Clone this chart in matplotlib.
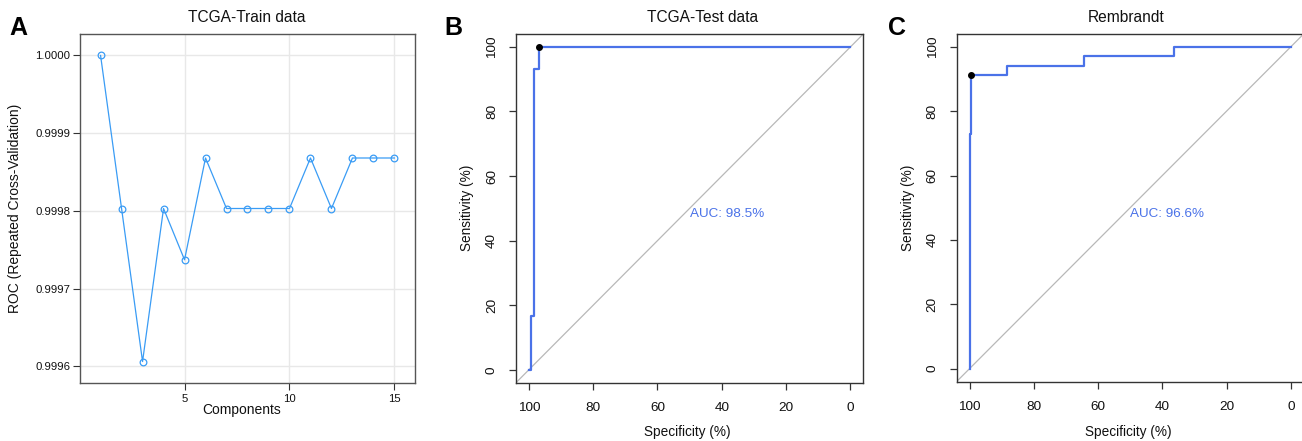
import matplotlib
matplotlib.use("Agg")
import matplotlib.pyplot as plt
import numpy as np

plt.rcParams['font.family'] = ['Liberation Sans', 'DejaVu Sans']

W, H = 1302, 441

# ---- Panel A data ----
components = [1, 2, 3, 4, 5, 6, 7, 8, 9, 10, 11, 12, 13, 14, 15]
roc_cv = [1.00000, 0.999803, 0.999606, 0.999803, 0.999737, 0.999868, 0.999803,
          0.999803, 0.999803, 0.999803, 0.999868, 0.999803, 0.999868, 0.999868, 0.999868]
a_xticks = [5, 10, 15]
a_yticks = [0.9996, 0.9997, 0.9998, 0.9999, 1.0000]

# ---- Panel B data (TCGA-Test) ----
b_spec = [100, 99.2, 99.2, 98.4, 98.4, 96.7, 96.7, 0]
b_sens = [0, 0, 16.7, 16.7, 93.3, 93.3, 100, 100]
b_best = (96.7, 100)
b_auc = "AUC: 98.5%"

# ---- Panel C data (Rembrandt) ----
c_spec = [100, 100, 99.4, 99.4, 88.2, 88.2, 64.4, 64.4, 36.3, 36.3, 0]
c_sens = [0, 72.8, 72.8, 91.2, 91.2, 94.1, 94.1, 97.1, 97.1, 100, 100]
c_best = (99.4, 91.2)
c_auc = "AUC: 96.6%"

roc_ticks = [0, 20, 40, 60, 80, 100]

fig = plt.figure(figsize=(W / 100, H / 100), dpi=100)


def rect(l, r, t, b):
    return [l / W, 1 - b / H, (r - l) / W, (b - t) / H]


def ftext(x, y, s, **kw):
    fig.text(x / W, 1 - y / H, s, **kw)


# ---------------- Panel A ----------------
axA = fig.add_axes(rect(80, 415, 34, 383))
lat_col = '#3a9cf5'
axA.plot(components, roc_cv, color=lat_col, lw=0.9, marker='o', ms=4.8,
         mfc='none', mec=lat_col, mew=0.9, zorder=3)
lo, hi = min(roc_cv), max(roc_cv)
pad = 0.07 * (hi - lo)
axA.set_ylim(lo - pad, hi + pad)
xpad = 0.07 * (max(components) - min(components))
axA.set_xlim(min(components) - xpad, max(components) + xpad)
axA.set_xticks(a_xticks)
axA.set_yticks(a_yticks)
axA.set_yticklabels([f"{v:.4f}" for v in a_yticks])
axA.grid(True, color='#e8e8e8', lw=1.0, zorder=0)
axA.set_axisbelow(True)
for s in axA.spines.values():
    s.set_color('#555555')
    s.set_linewidth(1.0)
axA.tick_params(axis='both', direction='out', length=4.8, width=0.8, color='#333333',
                labelsize=8.2, labelcolor='#111111', pad=2)
axA.tick_params(axis='x', pad=3)
ftext(247, 17, "TCGA-Train data", ha='center', va='center', fontsize=11.2, color='#111111')
ftext(242, 410, "Components", ha='center', va='center', fontsize=10, color='#111111')
ftext(15, 208, "ROC (Repeated Cross-Validation)", ha='center', va='center',
      rotation=90, fontsize=10, color='#111111')
ftext(18, 28, "A", ha='center', va='center', fontsize=18, fontweight='bold')


# ---------------- ROC panels ----------------
roc_col = '#4a72e8'


def roc_panel(r, spec, sens, best, auc, title, title_x, letter, letter_x):
    ax = fig.add_axes(rect(*r))
    ax.set_xlim(104, -4)
    ax.set_ylim(-4, 104)
    ax.plot([104, -4], [-4, 104], color='#b8b8b8', lw=0.9, zorder=1)
    ax.plot(spec, sens, color=roc_col, lw=1.6, zorder=2)
    ax.plot([best[0]], [best[1]], 'o', color='black', ms=4, zorder=3)
    ax.text(50, 50, auc, color=roc_col, fontsize=9.7, ha='left', va='top')
    ax.set_xticks(roc_ticks)
    ax.set_yticks(roc_ticks)
    ax.set_yticklabels([str(t) for t in roc_ticks], rotation=90, va='center')
    for s in ax.spines.values():
        s.set_color('#333333')
        s.set_linewidth(1.0)
    ax.tick_params(axis='both', direction='out', length=5, width=0.9, color='#333333',
                   labelsize=9.7, labelcolor='#111111')
    ax.tick_params(axis='x', pad=9)
    ax.tick_params(axis='y', pad=8)
    cx = (r[0] + r[1]) / 2
    ftext(title_x, 17, title, ha='center', va='center', fontsize=11.2, color='#111111')
    ftext(cx - 2, 432, "Specificity (%)", ha='center', va='center', fontsize=9.8, color='#111111')
    ftext(r[0] - 49, 208, "Sensitivity (%)", ha='center', va='center', rotation=90,
          fontsize=9.8, color='#111111')
    ftext(letter_x, 28, letter, ha='center', va='center', fontsize=18, fontweight='bold')
    return ax


roc_panel((516, 863.3, 34, 382.7), b_spec, b_sens, b_best, b_auc,
          "TCGA-Test data", 703, "B", 453)
roc_panel((956.7, 1303.6, 34, 381.5), c_spec, c_sens, c_best, c_auc,
          "Rembrandt", 1126, "C", 897)

fig.savefig("out.png", dpi=100)
